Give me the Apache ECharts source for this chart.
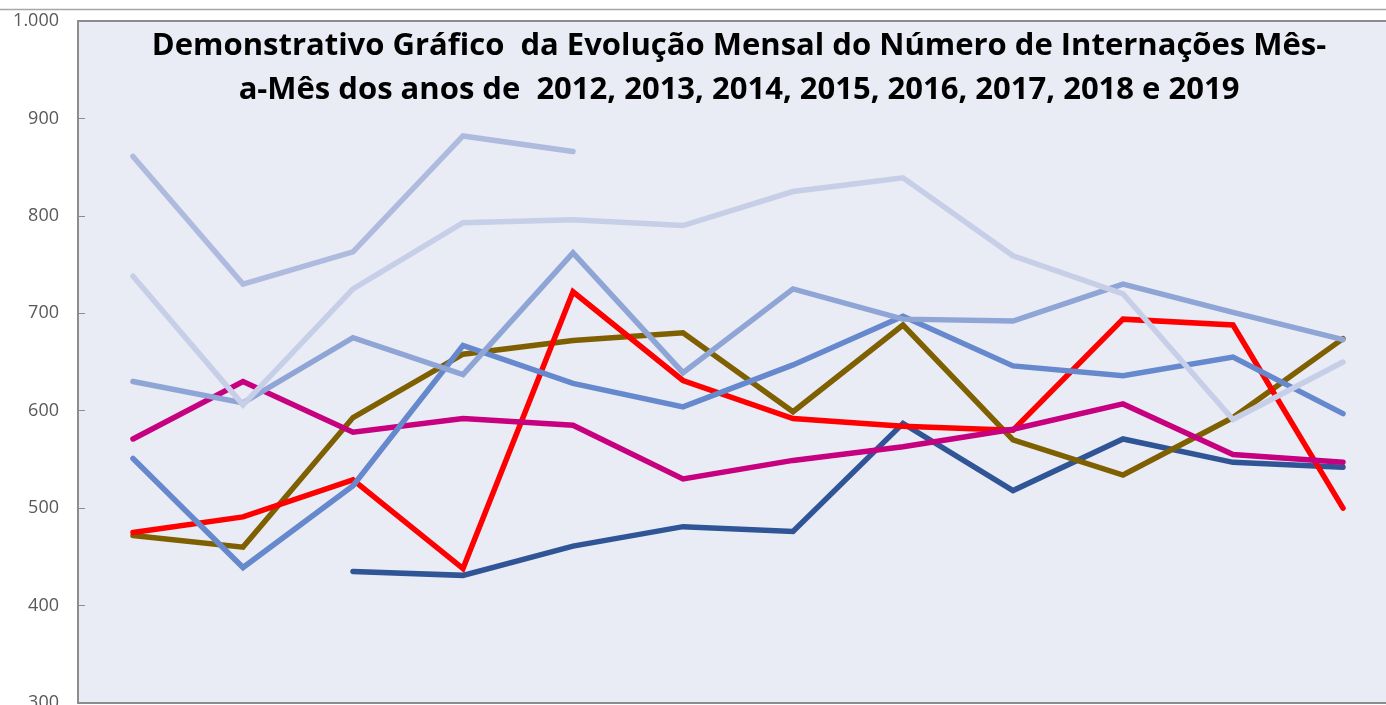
<!DOCTYPE html>
<html>
<head>
<meta charset="utf-8">
<title>Internações Mês-a-Mês</title>
<script src="https://cdn.jsdelivr.net/npm/echarts@6/dist/echarts.min.js"></script>
<style>
  html, body { margin: 0; padding: 0; background: #fff; }
  #chart { width: 1386px; height: 705px; }
</style>
</head>
<body>
<div id="chart"></div>
<script>
// meses (sem rótulos visíveis no gráfico)
const months = ['Jan', 'Fev', 'Mar', 'Abr', 'Mai', 'Jun', 'Jul', 'Ago', 'Set', 'Out', 'Nov', 'Dez'];

// internações por mês
const y2012 = [null, null, 435, 431, 461, 481, 476, 587, 518, 571, 547, 542];
const y2013 = [472, 460, 593, 658, 672, 680, 599, 688, 570, 534, 593, 674];
const y2014 = [475, 491, 529, 438, 722, 631, 592, 584, 580, 694, 688, 500];
const y2015 = [571, 630, 578, 592, 585, 530, 549, 563, 581, 607, 555, 547];
const y2016 = [551, 439, 523, 667, 628, 604, 647, 697, 646, 636, 655, 597];
const y2017 = [630, 608, 675, 637, 762, 639, 725, 694, 692, 730, 701, 673];
const y2018 = [738, 606, 725, 793, 796, 790, 825, 839, 759, 720, 591, 650];
const y2019 = [861, 730, 763, 882, 866];

const years = ['2012', '2013', '2014', '2015', '2016', '2017', '2018', '2019'];
const values = [y2012, y2013, y2014, y2015, y2016, y2017, y2018, y2019];
const colors = ['#2f5597', '#7f6000', '#ff0000', '#c6007e', '#6688cc', '#8fa5d6', '#c6cfe7', '#aebbde'];

const chart = echarts.init(document.getElementById('chart'));

const series = years.map(function (y, i) {
  return {
    name: y,
    type: 'line',
    data: values[i],
    showSymbol: false,
    symbol: 'none',
    connectNulls: false,
    lineStyle: { color: colors[i], width: 5.5, cap: 'round', join: 'miter' },
    itemStyle: { color: colors[i] },
    emphasis: { disabled: true },
    animation: false
  };
});

const option = {
  backgroundColor: '#ffffff',
  animation: false,
  grid: {
    left: 78,
    top: 21,
    width: 1320,
    height: 682,
    containLabel: false,
    outerBoundsMode: 'none',
    show: true,
    backgroundColor: '#e9ebf5',
    borderColor: '#8c8c8c',
    borderWidth: 2
  },
  xAxis: {
    type: 'category',
    data: months,
    boundaryGap: true,
    axisLine: { show: false },
    axisTick: { show: false },
    axisLabel: { show: false },
    splitLine: { show: false }
  },
  yAxis: {
    type: 'value',
    min: 300,
    max: 1000,
    interval: 100,
    axisLine: { show: true, lineStyle: { color: '#8c8c8c', width: 2 } },
    axisTick: { show: true, inside: true, length: 7, lineStyle: { color: '#8c8c8c', width: 1 } },
    splitLine: { show: false },
    axisLabel: {
      color: '#595959',
      fontFamily: 'Open Sans',
      fontSize: 18,
      margin: 19,
      formatter: function (v) {
        // separador de milhar com ponto
        return v >= 1000 ? '1.' + String(v % 1000).padStart(3, '0') : String(v);
      }
    }
  },
  graphic: [
    {
      type: 'line',
      shape: { x1: 0, y1: 9.5, x2: 1386, y2: 9.5 },
      style: { stroke: '#a6a6a6', lineWidth: 1.5 },
      silent: true
    },
    {
      type: 'text',
      x: 739,
      y: 24,
      z: 100,
      style: {
        text: 'Demonstrativo Gráfico  da Evolução Mensal do Número de Internações Mês-\na-Mês dos anos de  2012, 2013, 2014, 2015, 2016, 2017, 2018 e 2019',
        fill: '#000000',
        font: 'bold 31px "Open Sans"',
        lineHeight: 44,
        textAlign: 'center',
        textVerticalAlign: 'top'
      },
      silent: true
    }
  ],
  series: series
};

chart.setOption(option);
</script>
</body>
</html>
